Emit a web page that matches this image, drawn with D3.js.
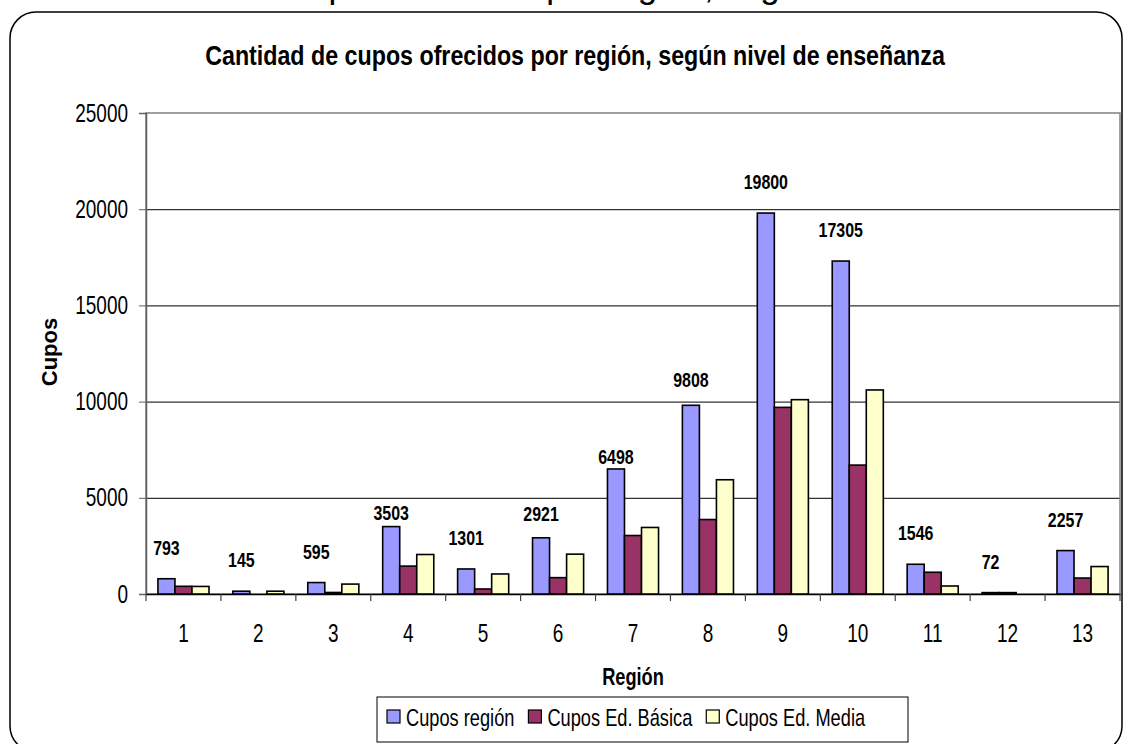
<!DOCTYPE html>
<html>
<head>
<meta charset="utf-8">
<script src="https://cdn.jsdelivr.net/npm/d3@7"></script>
<style>
  body { margin: 0; background: #fff; }
  svg { display: block; font-family: "Liberation Sans", Arial, sans-serif; }
</style>
</head>
<body>
<div id="chart"></div>
<script>
const regions = ['1', '2', '3', '4', '5', '6', '7', '8', '9', '10', '11', '12', '13'];
const cuposRegion = [793, 145, 595, 3503, 1301, 2921, 6498, 9808, 19800, 17305, 1546, 72, 2257];
const cuposBasica = [400, 0, 80, 1450, 260, 850, 3040, 3870, 9700, 6700, 1130, 72, 830];
const cuposMedia = [393, 145, 515, 2053, 1041, 2071, 3458, 5938, 10100, 10605, 416, 0, 1427];
const seriesNames = ['Cupos región', 'Cupos Ed. Básica', 'Cupos Ed. Media'];
const seriesColors = ['#9999FF', '#993366', '#FFFFCC'];
const yTicks = [0, 5000, 10000, 15000, 20000, 25000];

const squeeze = 0.76;

// labels that were dragged by hand in the original sit lower
const labelNudge = { '4': 17, '6': 7, '7': 19, '8': 6 };

let svg = d3.select('#chart')
            .append('svg')
            .attr('width', 1123)
            .attr('height', 744);

// text drawn narrow, like the original
function narrowText(x, y, str, size, weight, anchor, sx) {
  return svg.append('text')
            .attr('transform', `translate(${x},${y}) scale(${sx || squeeze},1)`)
            .attr('text-anchor', anchor)
            .attr('font-size', size)
            .attr('font-weight', weight)
            .text(str);
}

// heading of the page above, mostly cut off
svg.append('text')
   .attr('x', 93)
   .attr('y', -2)
   .attr('font-size', 35)
   .text('Cantidad de cupos ofrecidos por región, según nivel de enseñanza');

// chart frame
svg.append('rect')
   .attr('x', 10)
   .attr('y', 12)
   .attr('width', 1112)
   .attr('height', 740)
   .attr('rx', 26)
   .attr('fill', 'none')
   .attr('stroke', '#000')
   .attr('stroke-width', 1.5);

let plot = { left: 146, right: 1120, top: 113, bottom: 594 };

let x = d3.scaleBand()
          .domain(regions)
          .range([plot.left, plot.right]);

let xSub = d3.scaleBand()
             .domain([0, 1, 2])
             .range([0, x.bandwidth()])
             .paddingOuter(0.7);

let y = d3.scaleLinear()
          .domain([0, 25000])
          .range([plot.bottom, plot.top]);

// gridlines
svg.append('g')
   .selectAll('line')
   .data(yTicks.slice(1, -1))
   .enter()
   .append('line')
   .attr('x1', plot.left)
   .attr('x2', plot.right)
   .attr('y1', d => y(d) + 0.5)
   .attr('y2', d => y(d) + 0.5)
   .attr('stroke', '#000')
   .attr('stroke-width', 1);

// plot area border
svg.append('rect')
   .attr('x', plot.left)
   .attr('y', plot.top)
   .attr('width', plot.right - plot.left)
   .attr('height', plot.bottom - plot.top)
   .attr('fill', 'none')
   .attr('stroke', '#808080')
   .attr('stroke-width', 1.5);

// y axis
let yAxis = svg.append('g')
               .attr('transform', `translate(${plot.left},0)`)
               .call(d3.axisLeft(y)
                       .tickValues(yTicks)
                       .tickSize(7)
                       .tickFormat(d3.format('d')));

yAxis.select('.domain').attr('stroke', '#606060').attr('stroke-width', 1.5);
yAxis.selectAll('.tick line').attr('stroke', '#606060');
yAxis.selectAll('text')
     .attr('font-size', 25)
     .attr('font-family', 'Liberation Sans, Arial, sans-serif')
     .attr('fill', '#000')
     .attr('x', -18 / squeeze)
     .attr('transform', `scale(${squeeze},1)`);

// x axis
let xAxis = svg.append('g')
               .attr('transform', `translate(0,${plot.bottom})`)
               .call(d3.axisBottom(x)
                       .tickSize(0)
                       .tickPadding(30));

xAxis.select('.domain').attr('stroke', '#000').attr('stroke-width', 1.5);
xAxis.selectAll('text')
     .attr('font-size', 25)
     .attr('font-family', 'Liberation Sans, Arial, sans-serif')
     .attr('fill', '#000')
     .attr('transform', `scale(${squeeze},1)`);

// category separators below the axis
xAxis.selectAll('.sep')
     .data(regions.concat(['end']))
     .enter()
     .append('line')
     .attr('class', 'sep')
     .attr('x1', (d, i) => plot.left + i * x.step())
     .attr('x2', (d, i) => plot.left + i * x.step())
     .attr('y1', 0)
     .attr('y2', 7)
     .attr('stroke', '#404040')
     .attr('stroke-width', 1.2);

// bars
let series = [cuposRegion, cuposBasica, cuposMedia];
let barData = [];

regions.forEach((region, i) => {
  series.forEach((values, s) => {
    if (values[i] > 0) {
      barData.push({ region: region, series: s, value: values[i] });
    }
  });
});

svg.append('g')
   .selectAll('rect')
   .data(barData)
   .enter()
   .append('rect')
   .attr('x', d => x(d.region) + xSub(d.series))
   .attr('y', d => y(d.value))
   .attr('width', xSub.bandwidth())
   .attr('height', d => plot.bottom - y(d.value))
   .attr('fill', d => seriesColors[d.series])
   .attr('stroke', '#000')
   .attr('stroke-width', 1.6);

// value labels over the region bars
regions.forEach((region, i) => {
  let cx = x(region) + xSub(0) + xSub.bandwidth() / 2;
  let nudge = labelNudge[region] || 0;
  narrowText(cx, y(cuposRegion[i]) - 24 + nudge, cuposRegion[i], 21, 'bold', 'middle');
});

// titles
narrowText(575, 65, 'Cantidad de cupos ofrecidos por región, según nivel de enseñanza', 28, 'bold', 'middle', 0.83);
narrowText((plot.left + plot.right) / 2, 685, 'Región', 24, 'bold', 'middle');

svg.append('text')
   .attr('transform', 'translate(57,352) rotate(-90)')
   .attr('text-anchor', 'middle')
   .attr('font-size', 22)
   .attr('font-weight', 'bold')
   .text('Cupos');

// legend
svg.append('rect')
   .attr('x', 377)
   .attr('y', 697)
   .attr('width', 531)
   .attr('height', 45)
   .attr('fill', '#fff')
   .attr('stroke', '#000')
   .attr('stroke-width', 1);

let cursor = 387;

seriesNames.forEach((name, i) => {
  svg.append('rect')
     .attr('x', cursor)
     .attr('y', 710)
     .attr('width', 13)
     .attr('height', 13)
     .attr('fill', seriesColors[i])
     .attr('stroke', '#000')
     .attr('stroke-width', 1.2);

  let label = narrowText(cursor + 19, 726, name, 24, 'normal', 'start');
  cursor += 19 + label.node().getComputedTextLength() * squeeze + 14;
});
</script>
</body>
</html>
